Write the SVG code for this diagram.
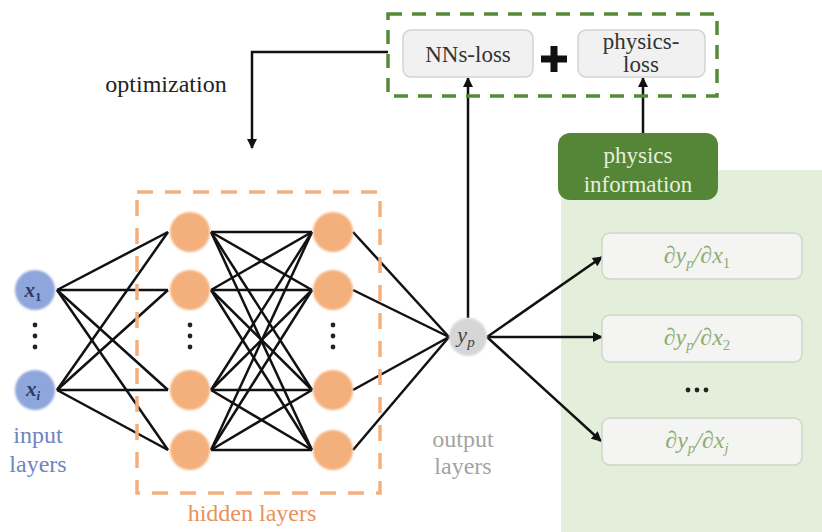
<svg xmlns="http://www.w3.org/2000/svg" width="822" height="532" viewBox="0 0 822 532" font-family="'Liberation Serif', serif">
<defs>
<style>
.lbl{font-size:23px;fill:#333;text-anchor:middle}
.conn line{stroke:#111;stroke-width:2.5}
.hid{fill:#f4b07c}
.inp{fill:#8fa6dc}
.box{fill:#f1f1f1;stroke:#d3d3d3;stroke-width:1.5}
.dbox{fill:#f4f5f2;stroke:#cfd6c8;stroke-width:1.5}
.der{font-size:24px;font-style:italic;fill:#8fad74;text-anchor:middle}
.dot{fill:#222}
</style>
<marker id="ah" viewBox="0 0 10 10" refX="9" refY="5" markerWidth="12" markerHeight="10" orient="auto" markerUnits="userSpaceOnUse">
<path d="M0,0 L10,5 L0,10 z" fill="#111"/>
</marker>
<filter id="soft" x="-20%" y="-20%" width="140%" height="140%"><feGaussianBlur stdDeviation="0.8"/></filter>
</defs>
<rect width="822" height="532" fill="#fff"/>
<rect id="physics-bg" x="561" y="170" width="261" height="362" fill="#e3efdb"/>

<g id="connectors" class="conn">
<line x1="57" y1="290" x2="168" y2="232"/>
<line x1="57" y1="290" x2="168" y2="290"/>
<line x1="57" y1="290" x2="168" y2="390"/>
<line x1="57" y1="290" x2="168" y2="450"/>
<line x1="57" y1="390" x2="168" y2="232"/>
<line x1="57" y1="390" x2="168" y2="290"/>
<line x1="57" y1="390" x2="168" y2="390"/>
<line x1="57" y1="390" x2="168" y2="450"/>
<line x1="211" y1="232" x2="312" y2="232"/>
<line x1="211" y1="232" x2="312" y2="290"/>
<line x1="211" y1="232" x2="312" y2="390"/>
<line x1="211" y1="232" x2="312" y2="450"/>
<line x1="211" y1="290" x2="312" y2="232"/>
<line x1="211" y1="290" x2="312" y2="290"/>
<line x1="211" y1="290" x2="312" y2="390"/>
<line x1="211" y1="290" x2="312" y2="450"/>
<line x1="211" y1="390" x2="312" y2="232"/>
<line x1="211" y1="390" x2="312" y2="290"/>
<line x1="211" y1="390" x2="312" y2="390"/>
<line x1="211" y1="390" x2="312" y2="450"/>
<line x1="211" y1="450" x2="312" y2="232"/>
<line x1="211" y1="450" x2="312" y2="290"/>
<line x1="211" y1="450" x2="312" y2="390"/>
<line x1="211" y1="450" x2="312" y2="450"/>
<line x1="353" y1="232" x2="449" y2="337"/>
<line x1="353" y1="290" x2="449" y2="337"/>
<line x1="353" y1="390" x2="449" y2="337"/>
<line x1="353" y1="450" x2="449" y2="337"/>
<line x1="487" y1="337" x2="602" y2="257" marker-end="url(#ah)"/>
<line x1="487" y1="337" x2="602" y2="337" marker-end="url(#ah)"/>
<line x1="487" y1="337" x2="601" y2="441" marker-end="url(#ah)"/>
<line x1="468" y1="318" x2="468" y2="78" marker-end="url(#ah)"/>
<line x1="643" y1="133" x2="643" y2="78" marker-end="url(#ah)"/>
<polyline points="388,52 252,52 252,148" fill="none" stroke="#111" stroke-width="2.5" marker-end="url(#ah)"/>
</g>

<g id="hidden-frame">
<rect x="137" y="192" width="243" height="301" fill="none" stroke="#f4b07c" stroke-width="3.5" stroke-dasharray="16,12"/>
<text x="252" y="521" font-size="24" fill="#e8925a" text-anchor="middle">hidden layers</text>
</g>

<g id="input-x1">
<circle class="inp" cx="35" cy="290" r="20" filter="url(#soft)"/>
<text x="33" y="297" font-size="21" font-style="italic" font-weight="bold" fill="#2e3a66" text-anchor="middle">x<tspan font-size="13" dy="4" font-style="normal">1</tspan></text>
</g>
<g id="input-xi">
<circle class="inp" cx="35" cy="390" r="20" filter="url(#soft)"/>
<text x="33" y="396" font-size="21" font-style="italic" font-weight="bold" fill="#2e3a66" text-anchor="middle">x<tspan font-size="13" dy="4">i</tspan></text>
</g>
<g id="input-dots">
<circle class="dot" cx="35" cy="325" r="2.4"/><circle class="dot" cx="35" cy="336" r="2.4"/><circle class="dot" cx="35" cy="347" r="2.4"/>
</g>
<g id="input-label">
<text x="38" y="443" font-size="24" fill="#6d84c2" text-anchor="middle">input</text>
<text x="38" y="472" font-size="24" fill="#6d84c2" text-anchor="middle">layers</text>
</g>

<g id="h1-1"><circle class="hid" cx="190" cy="232" r="20" filter="url(#soft)"/></g>
<g id="h1-2"><circle class="hid" cx="190" cy="290" r="20" filter="url(#soft)"/></g>
<g id="h1-3"><circle class="hid" cx="190" cy="390" r="20" filter="url(#soft)"/></g>
<g id="h1-4"><circle class="hid" cx="190" cy="450" r="20" filter="url(#soft)"/></g>
<g id="h1-dots"><circle class="dot" cx="190" cy="325" r="2.4"/><circle class="dot" cx="190" cy="336" r="2.4"/><circle class="dot" cx="190" cy="347" r="2.4"/></g>
<g id="h2-1"><circle class="hid" cx="333" cy="232" r="20" filter="url(#soft)"/></g>
<g id="h2-2"><circle class="hid" cx="333" cy="290" r="20" filter="url(#soft)"/></g>
<g id="h2-3"><circle class="hid" cx="333" cy="390" r="20" filter="url(#soft)"/></g>
<g id="h2-4"><circle class="hid" cx="333" cy="450" r="20" filter="url(#soft)"/></g>
<g id="h2-dots"><circle class="dot" cx="333" cy="325" r="2.4"/><circle class="dot" cx="333" cy="336" r="2.4"/><circle class="dot" cx="333" cy="347" r="2.4"/></g>

<g id="output-yp">
<circle cx="468" cy="337" r="19" fill="#d6d6d6" filter="url(#soft)"/>
<text x="466" y="342" font-size="22" font-style="italic" fill="#444" text-anchor="middle">y<tspan font-size="15" dy="5">p</tspan></text>
</g>
<g id="output-label">
<text x="463" y="447" font-size="24" fill="#a3a3a3" text-anchor="middle">output</text>
<text x="463" y="474" font-size="24" fill="#a3a3a3" text-anchor="middle">layers</text>
</g>

<g id="optimization-label">
<text x="166" y="92" font-size="24" fill="#222" text-anchor="middle">optimization</text>
</g>

<g id="loss-frame">
<rect x="388" y="14" width="329" height="82" fill="none" stroke="#578a38" stroke-width="3.5" stroke-dasharray="14,10"/>
</g>
<g id="nns-loss">
<rect class="box" x="403" y="30" width="130" height="47" rx="8"/>
<text class="lbl" x="468" y="62" font-size="24">NNs-loss</text>
</g>
<g id="plus">
<rect x="550.5" y="46" width="7" height="26" fill="#111"/>
<rect x="541" y="55.5" width="26" height="7" fill="#111"/>
</g>
<g id="physics-loss">
<rect class="box" x="578" y="30" width="127" height="47" rx="8"/>
<text class="lbl" x="641" y="49" font-size="22">physics-</text>
<text class="lbl" x="641" y="72" font-size="22">loss</text>
</g>

<g id="physics-information">
<rect x="558" y="133" width="160" height="67" rx="12" fill="#558637"/>
<text x="638" y="163" font-size="23" fill="#e6f0dc" text-anchor="middle">physics</text>
<text x="638" y="192" font-size="23" fill="#e6f0dc" text-anchor="middle">information</text>
</g>

<g id="deriv-1">
<rect class="dbox" x="602" y="233" width="200" height="46" rx="8"/>
<text class="der" x="697" y="263">∂y<tspan font-size="15" dy="5">p</tspan><tspan dy="-5">/∂x</tspan><tspan font-size="15" dy="5" font-style="normal">1</tspan></text>
</g>
<g id="deriv-2">
<rect class="dbox" x="602" y="315" width="200" height="47" rx="8"/>
<text class="der" x="697" y="345">∂y<tspan font-size="15" dy="5">p</tspan><tspan dy="-5">/∂x</tspan><tspan font-size="15" dy="5" font-style="normal">2</tspan></text>
</g>
<g id="deriv-dots">
<circle class="dot" cx="688" cy="390" r="2.4"/><circle class="dot" cx="697" cy="390" r="2.4"/><circle class="dot" cx="706" cy="390" r="2.4"/>
</g>
<g id="deriv-j">
<rect class="dbox" x="602" y="418" width="200" height="47" rx="8"/>
<text class="der" x="697" y="448">∂y<tspan font-size="15" dy="5">p</tspan><tspan dy="-5">/∂x</tspan><tspan font-size="15" dy="5">j</tspan></text>
</g>
</svg>
